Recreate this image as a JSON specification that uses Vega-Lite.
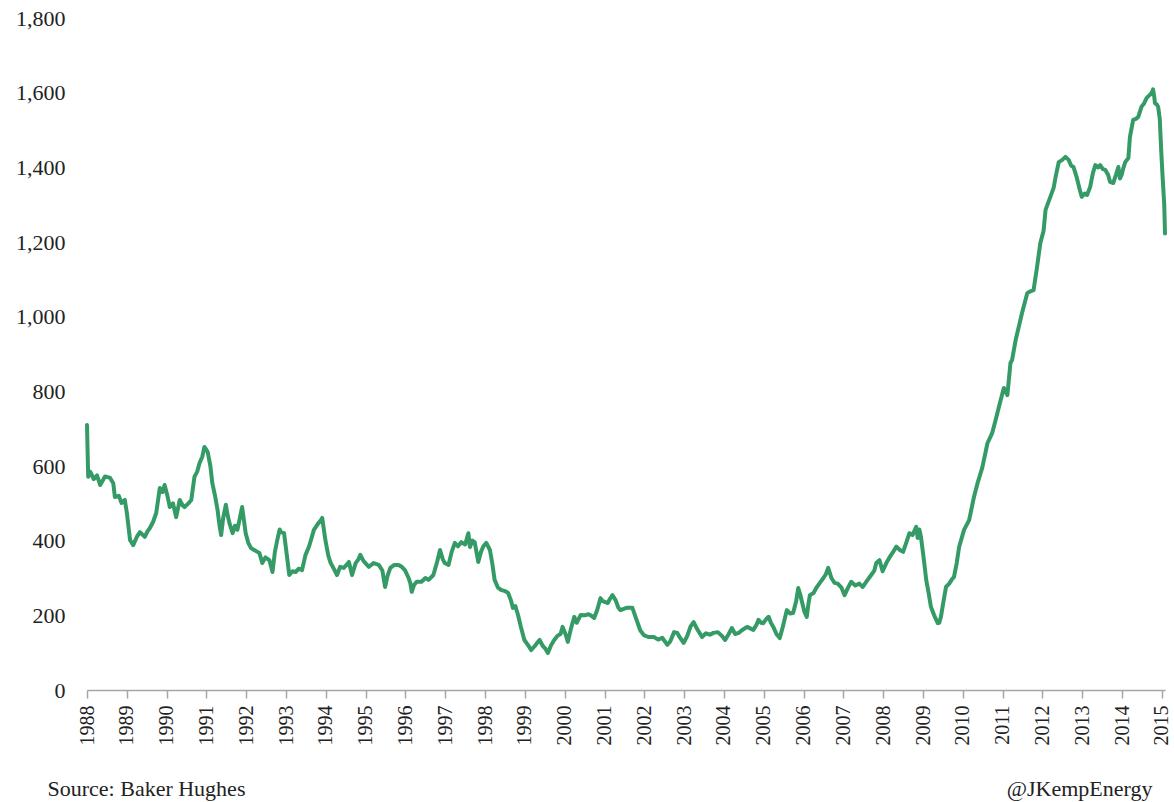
{
  "$schema": "https://vega.github.io/schema/vega-lite/v6.json",
  "width": 1078,
  "height": 672,
  "autosize": {"type": "none"},
  "padding": {"left": 87, "top": 18, "right": 9, "bottom": 112},
  "background": "white",
  "config": {
    "view": {"stroke": null},
    "font": "Liberation Serif",
    "axis": {"labelFont": "Liberation Serif", "titleFont": "Liberation Serif", "labelColor": "#222222", "titleColor": "#222222", "labelFontSize": 22, "titleFontSize": 22, "titleFontWeight": "normal", "grid": false}
  },
  "data": {"values": [
    {"date":"1988-01-01","rigs":710},{"date":"1988-01-12","rigs":571},{"date":"1988-01-30","rigs":585},{"date":"1988-03-03","rigs":565},{"date":"1988-04-02","rigs":575},{"date":"1988-05-01","rigs":549},{"date":"1988-06-14","rigs":572},{"date":"1988-07-31","rigs":568},{"date":"1988-08-29","rigs":554},{"date":"1988-09-13","rigs":517},{"date":"1988-10-19","rigs":520},{"date":"1988-11-13","rigs":501},{"date":"1988-12-13","rigs":509},
    {"date":"1989-01-01","rigs":474},{"date":"1989-01-30","rigs":402},{"date":"1989-02-28","rigs":388},{"date":"1989-04-02","rigs":410},{"date":"1989-05-01","rigs":423},{"date":"1989-06-14","rigs":410},{"date":"1989-07-09","rigs":425},{"date":"1989-07-31","rigs":434},{"date":"1989-08-29","rigs":450},{"date":"1989-09-27","rigs":474},{"date":"1989-10-30","rigs":541},{"date":"1989-11-24","rigs":530},{"date":"1989-12-13","rigs":549},
    {"date":"1990-01-08","rigs":520},{"date":"1990-01-30","rigs":490},{"date":"1990-02-28","rigs":500},{"date":"1990-03-29","rigs":463},{"date":"1990-05-01","rigs":509},{"date":"1990-05-27","rigs":495},{"date":"1990-06-14","rigs":490},{"date":"1990-07-20","rigs":500},{"date":"1990-08-15","rigs":509},{"date":"1990-09-13","rigs":571},{"date":"1990-10-08","rigs":585},{"date":"1990-10-30","rigs":608},{"date":"1990-11-24","rigs":625},{"date":"1990-12-13","rigs":651},
    {"date":"1991-01-12","rigs":638},{"date":"1991-02-06","rigs":600},{"date":"1991-02-24","rigs":554},{"date":"1991-03-21","rigs":520},{"date":"1991-04-13","rigs":482},{"date":"1991-05-01","rigs":440},{"date":"1991-05-16","rigs":415},{"date":"1991-06-03","rigs":460},{"date":"1991-06-28","rigs":496},{"date":"1991-07-13","rigs":470},{"date":"1991-07-31","rigs":447},{"date":"1991-08-29","rigs":420},{"date":"1991-09-20","rigs":440},{"date":"1991-10-12","rigs":429},{"date":"1991-11-10","rigs":470},{"date":"1991-11-24","rigs":490},{"date":"1991-12-13","rigs":450},{"date":"1991-12-27","rigs":420},
    {"date":"1992-01-19","rigs":395},{"date":"1992-02-14","rigs":380},{"date":"1992-03-14","rigs":375},{"date":"1992-04-13","rigs":370},{"date":"1992-05-01","rigs":367},{"date":"1992-05-27","rigs":340},{"date":"1992-06-25","rigs":355},{"date":"1992-07-31","rigs":348},{"date":"1992-08-29","rigs":316},{"date":"1992-09-20","rigs":370},{"date":"1992-10-12","rigs":402},{"date":"1992-11-03","rigs":430},{"date":"1992-11-13","rigs":423},{"date":"1992-12-13","rigs":420},
    {"date":"1993-01-08","rigs":360},{"date":"1993-01-30","rigs":308},{"date":"1993-02-28","rigs":318},{"date":"1993-03-29","rigs":316},{"date":"1993-04-27","rigs":325},{"date":"1993-05-27","rigs":321},{"date":"1993-06-28","rigs":362},{"date":"1993-07-31","rigs":385},{"date":"1993-09-13","rigs":429},{"date":"1993-10-19","rigs":445},{"date":"1993-11-17","rigs":455},{"date":"1993-11-28","rigs":461},{"date":"1993-12-27","rigs":402},
    {"date":"1994-01-23","rigs":360},{"date":"1994-02-14","rigs":340},{"date":"1994-03-14","rigs":325},{"date":"1994-04-13","rigs":308},{"date":"1994-05-12","rigs":330},{"date":"1994-06-14","rigs":327},{"date":"1994-07-09","rigs":335},{"date":"1994-07-31","rigs":343},{"date":"1994-08-29","rigs":308},{"date":"1994-10-01","rigs":340},{"date":"1994-10-26","rigs":350},{"date":"1994-11-13","rigs":362},{"date":"1994-12-13","rigs":345},
    {"date":"1995-01-30","rigs":330},{"date":"1995-03-14","rigs":340},{"date":"1995-05-01","rigs":335},{"date":"1995-06-03","rigs":320},{"date":"1995-06-28","rigs":276},{"date":"1995-07-20","rigs":305},{"date":"1995-08-15","rigs":327},{"date":"1995-09-20","rigs":335},{"date":"1995-10-30","rigs":335},{"date":"1995-11-28","rigs":330},{"date":"1995-12-27","rigs":321},
    {"date":"1996-01-30","rigs":300},{"date":"1996-02-14","rigs":287},{"date":"1996-02-28","rigs":263},{"date":"1996-03-21","rigs":282},{"date":"1996-04-13","rigs":290},{"date":"1996-05-27","rigs":290},{"date":"1996-07-02","rigs":300},{"date":"1996-07-31","rigs":295},{"date":"1996-09-13","rigs":308},{"date":"1996-10-19","rigs":345},{"date":"1996-11-13","rigs":375},{"date":"1996-12-09","rigs":350},{"date":"1996-12-27","rigs":340},
    {"date":"1997-01-30","rigs":335},{"date":"1997-02-28","rigs":370},{"date":"1997-03-29","rigs":394},{"date":"1997-04-27","rigs":385},{"date":"1997-05-27","rigs":396},{"date":"1997-07-02","rigs":390},{"date":"1997-07-31","rigs":420},{"date":"1997-08-15","rigs":383},{"date":"1997-09-06","rigs":400},{"date":"1997-09-27","rigs":396},{"date":"1997-10-30","rigs":343},{"date":"1997-11-24","rigs":370},{"date":"1997-12-16","rigs":385},
    {"date":"1998-01-12","rigs":394},{"date":"1998-02-14","rigs":375},{"date":"1998-03-07","rigs":340},{"date":"1998-03-29","rigs":295},{"date":"1998-04-27","rigs":275},{"date":"1998-05-27","rigs":268},{"date":"1998-07-02","rigs":265},{"date":"1998-07-31","rigs":260},{"date":"1998-08-26","rigs":240},{"date":"1998-09-13","rigs":220},{"date":"1998-10-05","rigs":225},{"date":"1998-10-30","rigs":201},{"date":"1998-11-24","rigs":170},{"date":"1998-12-27","rigs":134},
    {"date":"1999-01-30","rigs":120},{"date":"1999-02-28","rigs":107},{"date":"1999-04-02","rigs":118},{"date":"1999-04-20","rigs":125},{"date":"1999-05-16","rigs":134},{"date":"1999-06-14","rigs":118},{"date":"1999-07-09","rigs":110},{"date":"1999-07-31","rigs":99},{"date":"1999-08-29","rigs":120},{"date":"1999-09-27","rigs":134},{"date":"1999-10-26","rigs":145},{"date":"1999-11-24","rigs":150},{"date":"1999-12-13","rigs":169},
    {"date":"2000-01-08","rigs":150},{"date":"2000-01-30","rigs":129},{"date":"2000-02-28","rigs":165},{"date":"2000-03-29","rigs":196},{"date":"2000-04-20","rigs":180},{"date":"2000-05-27","rigs":201},{"date":"2000-07-02","rigs":200},{"date":"2000-08-07","rigs":203},{"date":"2000-09-06","rigs":198},{"date":"2000-09-27","rigs":193},{"date":"2000-10-26","rigs":215},{"date":"2000-11-24","rigs":246},{"date":"2000-12-16","rigs":238},
    {"date":"2001-01-30","rigs":233},{"date":"2001-02-21","rigs":245},{"date":"2001-03-14","rigs":254},{"date":"2001-04-13","rigs":240},{"date":"2001-05-08","rigs":220},{"date":"2001-05-27","rigs":214},{"date":"2001-07-20","rigs":220},{"date":"2001-09-13","rigs":220},{"date":"2001-10-19","rigs":190},{"date":"2001-11-24","rigs":160},{"date":"2001-12-27","rigs":147},
    {"date":"2002-02-06","rigs":142},{"date":"2002-03-29","rigs":142},{"date":"2002-05-08","rigs":135},{"date":"2002-06-14","rigs":140},{"date":"2002-07-31","rigs":121},{"date":"2002-08-26","rigs":130},{"date":"2002-10-01","rigs":155},{"date":"2002-10-30","rigs":153},{"date":"2002-11-24","rigs":140},{"date":"2002-12-27","rigs":126},
    {"date":"2003-01-30","rigs":145},{"date":"2003-02-28","rigs":170},{"date":"2003-03-29","rigs":182},{"date":"2003-04-27","rigs":165},{"date":"2003-06-14","rigs":142},{"date":"2003-07-20","rigs":152},{"date":"2003-08-26","rigs":148},{"date":"2003-09-27","rigs":153},{"date":"2003-11-06","rigs":155},{"date":"2003-12-13","rigs":145},
    {"date":"2004-01-12","rigs":134},{"date":"2004-02-14","rigs":150},{"date":"2004-03-14","rigs":166},{"date":"2004-04-13","rigs":150},{"date":"2004-05-16","rigs":153},{"date":"2004-06-14","rigs":160},{"date":"2004-07-31","rigs":169},{"date":"2004-08-29","rigs":165},{"date":"2004-09-27","rigs":161},{"date":"2004-10-26","rigs":175},{"date":"2004-11-13","rigs":188},{"date":"2004-12-09","rigs":180},{"date":"2004-12-27","rigs":179},
    {"date":"2005-01-23","rigs":190},{"date":"2005-02-14","rigs":196},{"date":"2005-03-07","rigs":180},{"date":"2005-03-29","rigs":169},{"date":"2005-04-27","rigs":150},{"date":"2005-05-27","rigs":139},{"date":"2005-06-25","rigs":170},{"date":"2005-07-31","rigs":214},{"date":"2005-08-29","rigs":205},{"date":"2005-09-27","rigs":206},{"date":"2005-10-26","rigs":240},{"date":"2005-11-13","rigs":273},{"date":"2005-12-02","rigs":255},{"date":"2005-12-13","rigs":241},
    {"date":"2006-01-08","rigs":210},{"date":"2006-01-30","rigs":196},{"date":"2006-02-14","rigs":230},{"date":"2006-02-28","rigs":254},{"date":"2006-04-02","rigs":260},{"date":"2006-05-01","rigs":275},{"date":"2006-05-30","rigs":287},{"date":"2006-07-02","rigs":300},{"date":"2006-07-24","rigs":310},{"date":"2006-08-15","rigs":327},{"date":"2006-09-13","rigs":300},{"date":"2006-10-12","rigs":287},{"date":"2006-11-10","rigs":285},{"date":"2006-12-13","rigs":275},
    {"date":"2007-01-12","rigs":254},{"date":"2007-02-14","rigs":275},{"date":"2007-03-14","rigs":290},{"date":"2007-04-20","rigs":280},{"date":"2007-05-27","rigs":285},{"date":"2007-06-28","rigs":276},{"date":"2007-07-31","rigs":290},{"date":"2007-09-13","rigs":308},{"date":"2007-10-12","rigs":320},{"date":"2007-10-30","rigs":340},{"date":"2007-11-28","rigs":348},{"date":"2007-12-27","rigs":318},
    {"date":"2008-01-30","rigs":340},{"date":"2008-02-28","rigs":355},{"date":"2008-04-02","rigs":370},{"date":"2008-05-01","rigs":384},{"date":"2008-06-03","rigs":375},{"date":"2008-07-02","rigs":370},{"date":"2008-07-31","rigs":395},{"date":"2008-08-29","rigs":420},{"date":"2008-09-27","rigs":415},{"date":"2008-10-19","rigs":430},{"date":"2008-10-30","rigs":437},{"date":"2008-11-13","rigs":407},{"date":"2008-11-28","rigs":430},{"date":"2008-12-13","rigs":410},
    {"date":"2009-01-08","rigs":350},{"date":"2009-01-30","rigs":295},{"date":"2009-02-21","rigs":260},{"date":"2009-03-14","rigs":223},{"date":"2009-04-13","rigs":200},{"date":"2009-05-16","rigs":179},{"date":"2009-05-30","rigs":180},{"date":"2009-06-14","rigs":196},{"date":"2009-07-09","rigs":240},{"date":"2009-07-31","rigs":276},{"date":"2009-08-29","rigs":285},{"date":"2009-09-20","rigs":295},{"date":"2009-10-12","rigs":303},{"date":"2009-11-06","rigs":340},{"date":"2009-11-28","rigs":383},
    {"date":"2010-01-12","rigs":429},{"date":"2010-02-28","rigs":455},{"date":"2010-04-13","rigs":517},{"date":"2010-05-16","rigs":554},{"date":"2010-06-28","rigs":595},{"date":"2010-07-20","rigs":625},{"date":"2010-08-15","rigs":661},{"date":"2010-09-27","rigs":688},{"date":"2010-10-26","rigs":720},{"date":"2010-11-28","rigs":758},
    {"date":"2011-01-12","rigs":809},{"date":"2011-02-14","rigs":790},{"date":"2011-03-14","rigs":876},{"date":"2011-03-29","rigs":884},{"date":"2011-05-01","rigs":938},{"date":"2011-05-16","rigs":956},{"date":"2011-06-28","rigs":1010},{"date":"2011-08-15","rigs":1063},{"date":"2011-09-13","rigs":1068},{"date":"2011-10-12","rigs":1071},{"date":"2011-11-13","rigs":1133},{"date":"2011-12-13","rigs":1197},
    {"date":"2012-01-12","rigs":1230},{"date":"2012-01-30","rigs":1286},{"date":"2012-03-14","rigs":1321},{"date":"2012-04-13","rigs":1345},{"date":"2012-05-01","rigs":1374},{"date":"2012-05-30","rigs":1414},{"date":"2012-07-02","rigs":1420},{"date":"2012-07-31","rigs":1428},{"date":"2012-08-29","rigs":1420},{"date":"2012-09-20","rigs":1405},{"date":"2012-10-12","rigs":1401},{"date":"2012-11-13","rigs":1371},{"date":"2012-12-09","rigs":1340},{"date":"2012-12-27","rigs":1321},
    {"date":"2013-01-23","rigs":1330},{"date":"2013-02-14","rigs":1326},{"date":"2013-03-14","rigs":1347},{"date":"2013-04-09","rigs":1385},{"date":"2013-05-01","rigs":1406},{"date":"2013-05-27","rigs":1400},{"date":"2013-06-14","rigs":1406},{"date":"2013-07-09","rigs":1395},{"date":"2013-07-31","rigs":1393},{"date":"2013-08-26","rigs":1380},{"date":"2013-09-13","rigs":1361},{"date":"2013-10-12","rigs":1358},{"date":"2013-11-06","rigs":1380},{"date":"2013-11-28","rigs":1401},{"date":"2013-12-13","rigs":1370},{"date":"2013-12-27","rigs":1379},
    {"date":"2014-01-15","rigs":1400},{"date":"2014-01-30","rigs":1414},{"date":"2014-02-28","rigs":1425},{"date":"2014-03-14","rigs":1481},{"date":"2014-04-13","rigs":1527},{"date":"2014-05-08","rigs":1530},{"date":"2014-05-30","rigs":1535},{"date":"2014-06-28","rigs":1562},{"date":"2014-07-20","rigs":1570},{"date":"2014-08-15","rigs":1586},{"date":"2014-09-13","rigs":1594},{"date":"2014-10-01","rigs":1600},{"date":"2014-10-12","rigs":1609},{"date":"2014-10-23","rigs":1590},{"date":"2014-10-30","rigs":1572},{"date":"2014-11-17","rigs":1568},{"date":"2014-11-28","rigs":1562},{"date":"2014-12-13","rigs":1530},{"date":"2014-12-27","rigs":1440},
    {"date":"2015-01-09","rigs":1370},{"date":"2015-01-23","rigs":1300},{"date":"2015-01-30","rigs":1223}
  ]},
  "mark": {"type": "line", "color": "#359b66", "strokeWidth": 4, "strokeJoin": "round", "strokeCap": "round"},
  "encoding": {
    "x": {
      "field": "date",
      "type": "temporal",
      "timeUnit": "utcyearmonthdate",
      "scale": {"nice": false},
      "axis": {
        "format": "%Y",
        "tickCount": {"interval": "year", "step": 1},
        "labelAngle": -90,
        "labelFontSize": 20,
        "labelPadding": 7,
        "tickSize": 8,
        "tickColor": "#a6a6a6",
        "tickWidth": 1.5,
        "domainColor": "#a6a6a6",
        "domainWidth": 1.5,
        "labelFlush": false,
        "labelOverlap": false,
        "title": "@JKempEnergy",
        "titleAnchor": "end",
        "titleAlign": "right",
        "titleBaseline": "alphabetic",
        "titleX": 1065,
        "titleY": 105
      }
    },
    "y": {
      "field": "rigs",
      "type": "quantitative",
      "scale": {"domain": [0, 1800], "nice": false},
      "axis": {
        "values": [0, 200, 400, 600, 800, 1000, 1200, 1400, 1600, 1800],
        "format": ",.0f",
        "ticks": false,
        "domain": false,
        "labelPadding": 22,
        "title": "Source: Baker Hughes",
        "titleAngle": 0,
        "titleAlign": "left",
        "titleBaseline": "alphabetic",
        "titleX": -40,
        "titleY": 777
      }
    }
  }
}
